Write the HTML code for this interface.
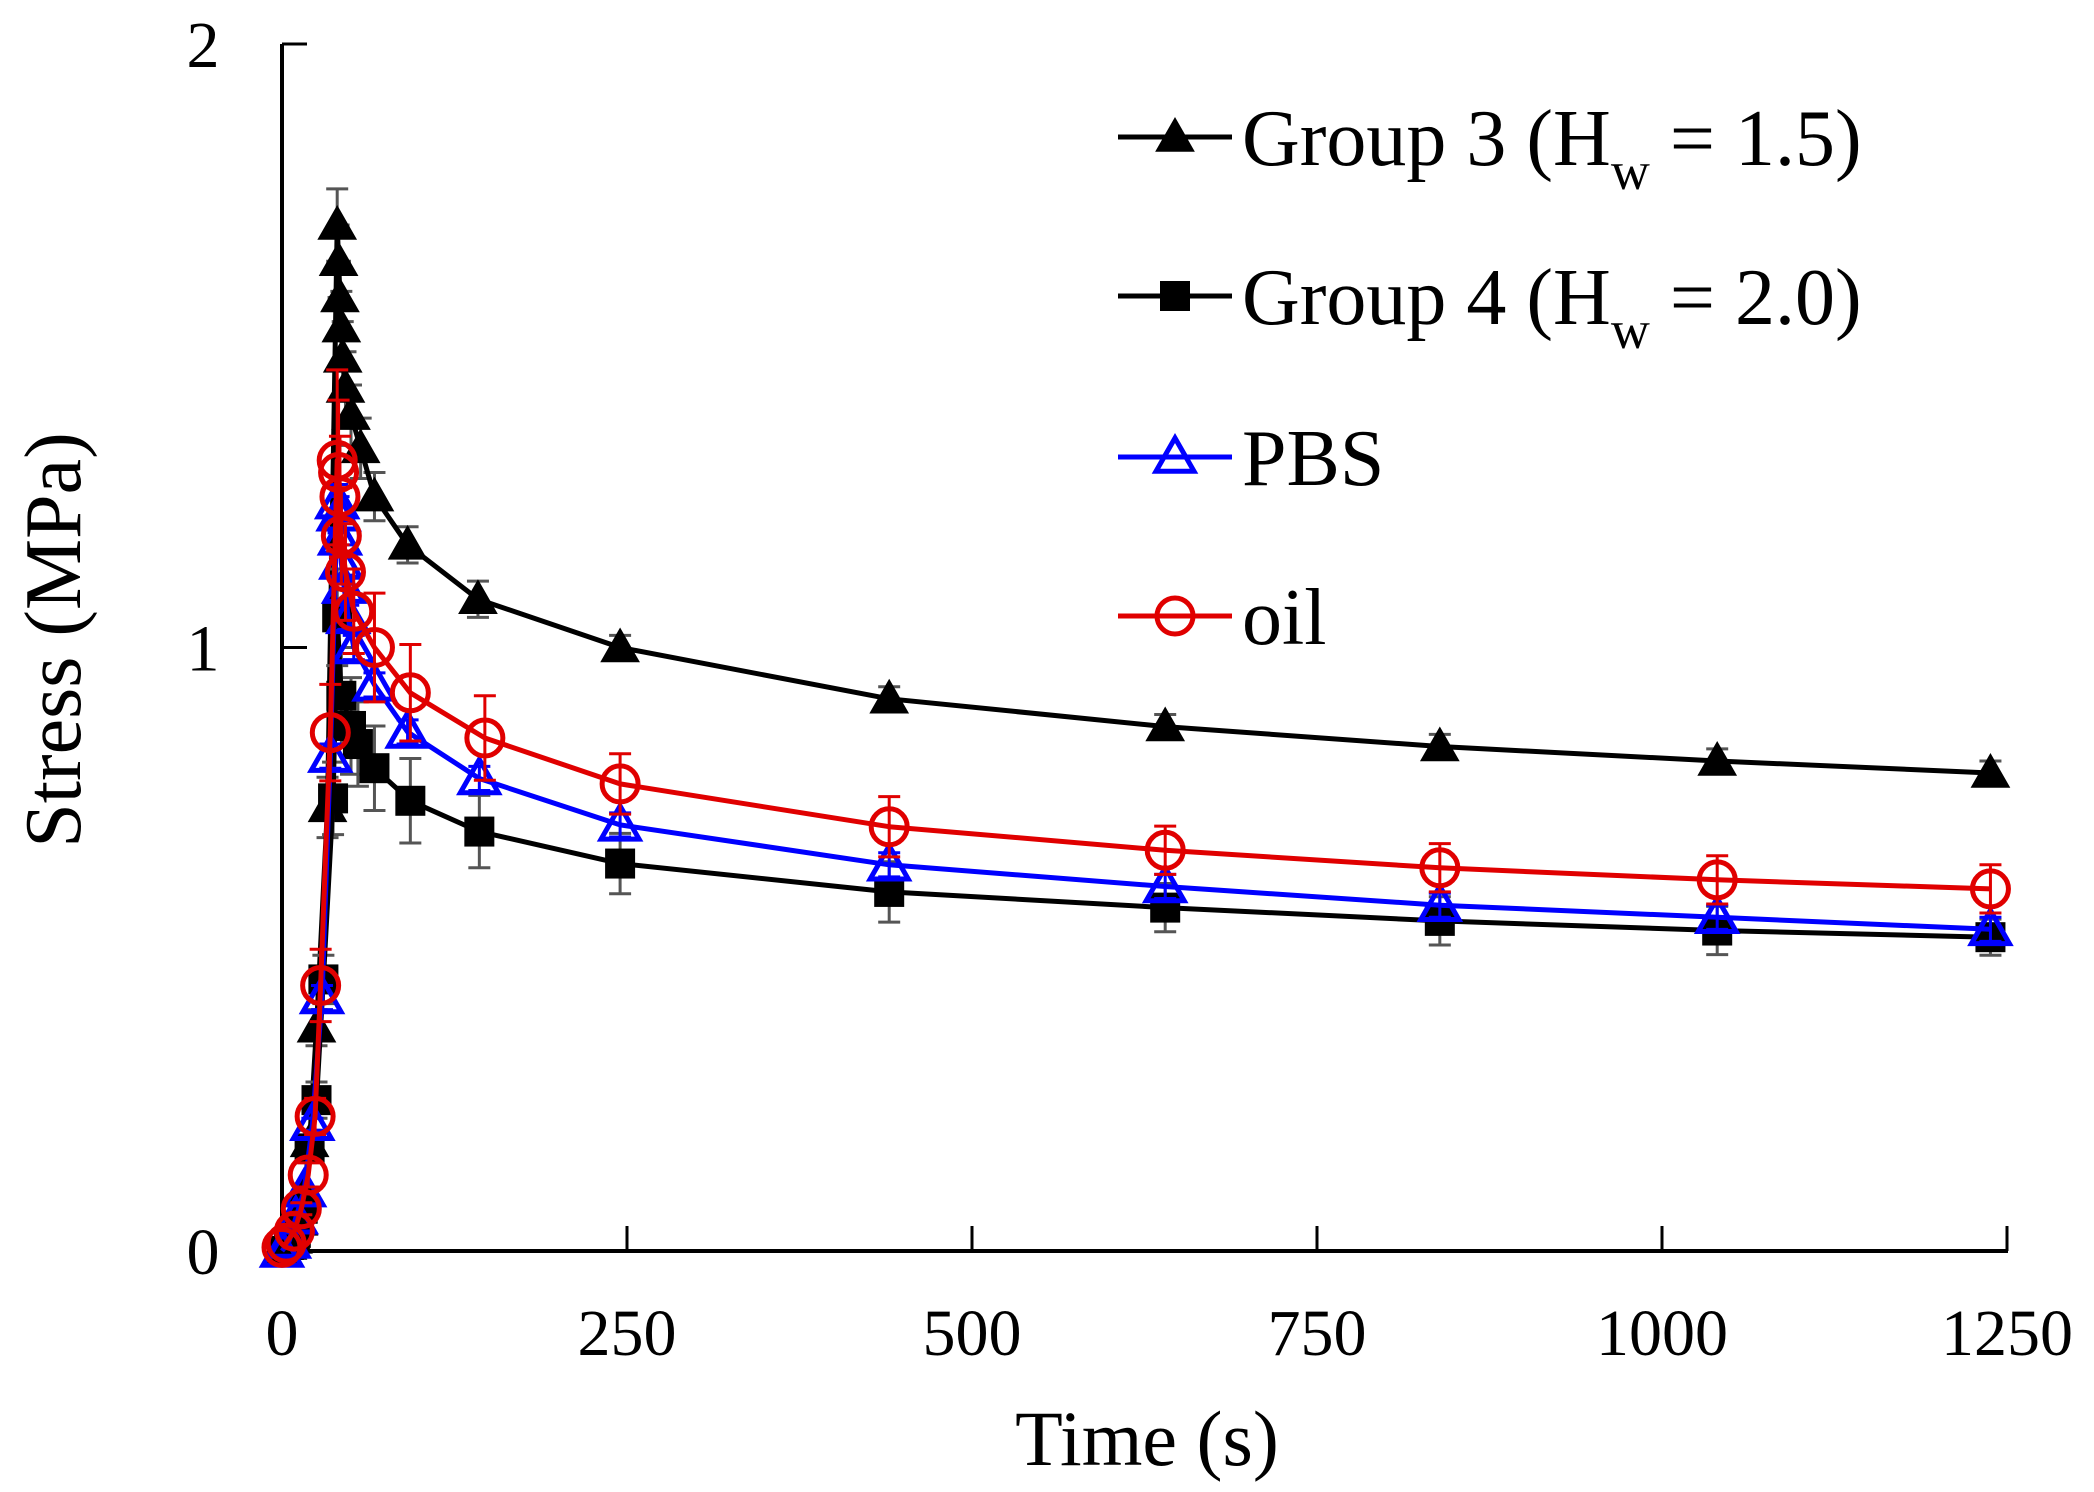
<!DOCTYPE html>
<html><head><meta charset="utf-8"><style>
html,body{margin:0;padding:0;background:#fff}
svg{display:block}
text{font-family:"Liberation Serif",serif;fill:#000}
</style></head><body>
<svg id="chart" width="2094" height="1492" viewBox="0 0 2094 1492" xmlns="http://www.w3.org/2000/svg"></svg>
<script>
const xTicks=[0,250,500,750,1000,1250];
const yTicks=[0,1,2];
const g3T=[0,4,8,12,16,20,25,33,40,41,42,43,44,46,50,57,67,91,142,245,440,640,839,1040,1238];
const g3S=[0,0.01,0.02,0.05,0.10,0.18,0.37,0.735,1.70,1.64,1.58,1.53,1.48,1.43,1.385,1.33,1.25,1.17,1.08,1.0,0.915,0.869,0.836,0.812,0.792];
const g3E=[0,0,0,0,0,0.02,0.03,0.05,0.06,0.06,0.06,0.06,0.06,0.06,0.05,0.05,0.04,0.03,0.03,0.02,0.02,0.02,0.02,0.02,0.02];
const g4T=[0,5,10,15,20,25,30,37,40,43,50,55,67,93,143,245,440,640,839,1040,1238];
const g4S=[0,0.01,0.03,0.07,0.17,0.25,0.45,0.75,1.05,0.92,0.87,0.84,0.80,0.746,0.695,0.642,0.595,0.569,0.547,0.531,0.520];
const g4E=[0,0,0,0.01,0.02,0.03,0.04,0.06,0.08,0.08,0.08,0.07,0.07,0.07,0.06,0.05,0.05,0.04,0.04,0.04,0.03];
const pbsT=[0,5,10,16,22,29,35,40,41,42,43,45,48,52,67,91,143,245,440,640,839,1040,1238];
const pbsS=[0,0.015,0.055,0.10,0.21,0.42,0.82,1.24,1.22,1.18,1.14,1.10,1.05,1.0,0.938,0.86,0.783,0.706,0.64,0.604,0.573,0.553,0.533];
const pbsE=[0,0,0,0,0.01,0.02,0.02,0.03,0.03,0.03,0.03,0.02,0.02,0.02,0.02,0.02,0.02,0.02,0.02,0.02,0.02,0.02,0.02];
const oilT=[0,3,9,14,19,24,28,35,40,41,42,43,46,52,67,93,147,245,440,640,839,1040,1238];
const oilS=[0.006,0.013,0.033,0.07,0.126,0.223,0.44,0.859,1.31,1.29,1.25,1.185,1.125,1.06,1.0,0.925,0.85,0.774,0.703,0.664,0.635,0.615,0.600];
const oilE=[0,0,0,0.01,0.02,0.03,0.06,0.08,0.15,0.12,0.1,0.08,0.08,0.07,0.09,0.08,0.07,0.05,0.05,0.04,0.04,0.04,0.04];

const NS="http://www.w3.org/2000/svg";
const svg=document.getElementById('chart');
const X0=282,X1=2007,Y0=1251,Y2=44;
function xs(t){return X0+(t/1250)*(X1-X0);}
function ys(v){return Y0-(v/2)*(Y0-Y2);}
function mk(tag,attrs,parent){const e=document.createElementNS(NS,tag);for(const k in attrs)e.setAttribute(k,attrs[k]);(parent||svg).appendChild(e);return e;}

const ax=mk('g',{});


const yl=mk('line',{x1:X0,y1:Y2,x2:X0,y2:Y0+2,stroke:'#000','stroke-width':4},ax);


const xl=mk('line',{x1:X0-2,y1:Y0,x2:X1+1,y2:Y0,stroke:'#000','stroke-width':4},ax);


xTicks.forEach(t=>{
  const l=mk('line',{x1:xs(t),y1:Y0,x2:xs(t),y2:Y0-25,stroke:'#000','stroke-width':3},ax);
  
  
  const tx=mk('text',{x:xs(t),y:1355,'font-size':66,'text-anchor':'middle'},ax);
  tx.textContent=t;
  
  
});
yTicks.forEach(v=>{
  const l=mk('line',{x1:X0,y1:ys(v),x2:X0+25,y2:ys(v),stroke:'#000','stroke-width':3},ax);
  
  
  const tx=mk('text',{x:203,y:ys(v)+23,'font-size':66,'text-anchor':'middle'},ax);
  tx.textContent=v;
  
  
});
const xt=mk('text',{x:1147,y:1465,'font-size':78,'text-anchor':'middle'});
xt.textContent='Time (s)';


const yt=mk('text',{x:0,y:0,'font-size':80,'text-anchor':'middle',transform:'translate(80,640) rotate(-90)'});
yt.textContent='Stress (MPa)';



function marker(g,type,color,x,y){
  let e;
  if(type==='tri'||type==='otri'){
    const r=19;
    e=mk('polygon',{points:`${x},${y-r} ${x+r*1.0},${y+r*0.75} ${x-r*1.0},${y+r*0.75}`,fill:type==='tri'?color:'none',stroke:color,'stroke-width':type==='tri'?1:5},g);
  } else if(type==='sq'){
    e=mk('rect',{x:x-15,y:y-15,width:30,height:30,fill:color},g);
  } else {
    e=mk('circle',{cx:x,cy:y,r:18,fill:'none',stroke:color,'stroke-width':5},g);
  }
  return e;
}
function series(name,T,S,E,color,ecolor,type){
  const g=mk('g',{});
  
  
  T.forEach((t,i)=>{
    if(E[i]>0){
      const x=xs(t),a=ys(S[i]+E[i]),b=ys(S[i]-E[i]);
      const eb=mk('path',{d:`M${x},${a}V${b}M${x-11},${a}H${x+11}M${x-11},${b}H${x+11}`,stroke:ecolor,'stroke-width':3,fill:'none'},g);
      
      
    }
  });
  let d='';
  T.forEach((t,i)=>{d+=(i?'L':'M')+xs(t).toFixed(1)+','+ys(S[i]).toFixed(1);});
  const ln=mk('path',{d:d,stroke:color,'stroke-width':5,fill:'none','stroke-linejoin':'round'},g);
  
  
  T.forEach((t,i)=>{
    const m=marker(g,type,color,xs(t),ys(S[i]));
    
    
  });
}
series('group3',g3T,g3S,g3E,'#000','#555','tri');
series('group4',g4T,g4S,g4E,'#000','#555','sq');
series('pbs',pbsT,pbsS,pbsE,'#0000ff','#0000ff','otri');
series('oil',oilT,oilS,oilE,'#e00000','#e00000','circ');

const leg=mk('g',{});


const legRows=[
  {n:'group3',c:'#000',t:'tri',label:'Group 3 (H',sub:'w',rest:' = 1.5)',y:137},
  {n:'group4',c:'#000',t:'sq',label:'Group 4 (H',sub:'w',rest:' = 2.0)',y:296},
  {n:'pbs',c:'#0000ff',t:'otri',label:'PBS',y:457},
  {n:'oil',c:'#e00000',t:'circ',label:'oil',y:616}
];
legRows.forEach(r=>{
  const g=mk('g',{},leg);
  
  
  mk('line',{x1:1118,y1:r.y,x2:1232,y2:r.y,stroke:r.c,'stroke-width':5},g);
  marker(g,r.t,r.c,1175,r.y);
  const tx=mk('text',{x:1242,y:r.y+28,'font-size':80},g);
  tx.appendChild(document.createTextNode(r.label));
  if(r.sub){
    const s=mk('tspan',{dy:24,'font-size':54},tx);s.textContent=r.sub;
    const s2=mk('tspan',{dy:-24},tx);s2.textContent=r.rest;
  }
});
</script>
</body></html>
